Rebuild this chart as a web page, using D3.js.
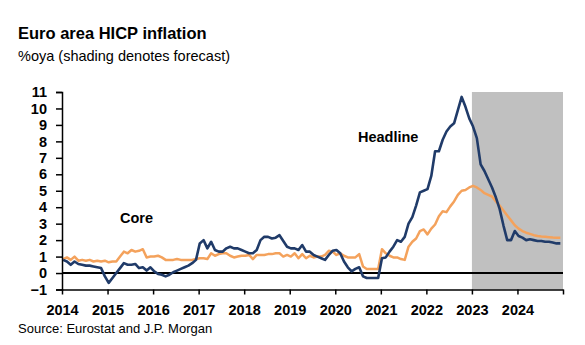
<!DOCTYPE html>
<html>
<head>
<meta charset="utf-8">
<script src="https://cdn.jsdelivr.net/npm/d3@7"></script>
<style>
    body { margin: 0; background: #fff; }
    text { font-family: "Liberation Sans", Arial, sans-serif; }
</style>
</head>
<body>
<div class="hicp-chart-container"></div>
<script>
// monthly, Jan 2014 .. Dec 2024 (2023-24 is forecast)
var years = ["2014", "2015", "2016", "2017", "2018", "2019", "2020", "2021", "2022", "2023", "2024"]
var yTicks = [-1, 0, 1, 2, 3, 4, 5, 6, 7, 8, 9, 10, 11]
var forecastStartIndex = 108 // Jan 2023

var headline = [
    0.8, 0.7, 0.5, 0.7, 0.55, 0.5, 0.45, 0.45, 0.4, 0.35, 0.3, -0.2,
    -0.6, -0.3, 0.0, 0.3, 0.6, 0.5, 0.5, 0.55, 0.3, 0.35, 0.15, 0.35,
    0.1, -0.05, -0.1, -0.2, -0.1, 0.05, 0.15, 0.25, 0.35, 0.45, 0.6, 0.8,
    1.8, 2.0, 1.5, 1.9, 1.4, 1.3, 1.3, 1.5, 1.6, 1.5, 1.5, 1.4,
    1.3, 1.2, 1.2, 1.4, 2.0, 2.2, 2.2, 2.1, 2.15, 2.3, 1.95, 1.6,
    1.5, 1.5, 1.4, 1.7, 1.3, 1.3, 1.1, 1.0, 0.9, 0.8, 1.1, 1.35,
    1.4, 1.2, 0.7, 0.35, 0.1, 0.25, 0.35, -0.2, -0.3, -0.3, -0.3, -0.3,
    0.9, 0.95, 1.3, 1.6, 2.0, 1.9, 2.2, 3.0, 3.4, 4.1, 4.9, 5.0,
    5.1, 5.9, 7.4, 7.4, 8.1, 8.6, 8.9, 9.1, 9.9, 10.7, 10.1, 9.4,
    8.9, 8.2, 6.6, 6.2, 5.7, 5.2, 4.6, 3.9, 2.9, 2.0, 2.0, 2.55,
    2.25, 2.15, 2.0, 2.05, 2.0, 1.95, 1.95, 1.9, 1.9, 1.85, 1.8, 1.8
]

var core = [
    0.85, 0.95, 0.8, 1.0, 0.75, 0.8, 0.75, 0.8, 0.7, 0.75, 0.7, 0.75,
    0.65, 0.7, 0.7, 1.0, 1.3, 1.2, 1.4, 1.3, 1.35, 1.45, 0.95, 1.0,
    1.0, 1.05, 0.95, 0.8, 0.8, 0.8, 0.85, 0.8, 0.8, 0.8, 0.8, 0.85,
    0.9, 0.9, 0.85, 1.2, 1.05, 1.15, 1.2, 1.2, 1.05, 0.95, 1.0, 1.05,
    1.05, 1.1, 0.85, 1.1, 1.1, 1.1, 1.15, 1.15, 1.2, 1.2, 1.0, 1.1,
    1.0, 1.2, 0.9, 1.15, 0.9, 1.05, 0.95, 1.0, 1.0, 1.1, 1.35, 1.3,
    1.1, 1.2, 1.05, 0.95, 0.95, 0.95, 1.15, 0.4, 0.25, 0.25, 0.25, 0.25,
    1.45, 1.2, 1.05, 0.95, 0.95, 0.85, 0.8, 1.6, 1.9, 2.1, 2.55, 2.65,
    2.35, 2.7, 2.95, 3.45, 3.75, 3.7, 4.05, 4.35, 4.75, 5.0, 5.05, 5.2,
    5.3, 5.2, 5.05, 4.85, 4.75, 4.65, 4.35, 4.1, 3.8, 3.5, 3.2, 2.9,
    2.7, 2.55, 2.45, 2.38, 2.3, 2.25, 2.22, 2.2, 2.18, 2.16, 2.15, 2.14
]

let hicp_dimensions = {
    width: 585,
    height: 345,
    plot: { left: 62, right: 563, top: 92, bottom: 289.5 }
}

var svg = d3.select(".hicp-chart-container")
    .append("svg")
    .attr("width", hicp_dimensions.width)
    .attr("height", hicp_dimensions.height)

var p = hicp_dimensions.plot
var nMonths = years.length * 12

var xScale = d3.scaleLinear()
    .domain([0, nMonths])
    .range([p.left, p.right])

var yScale = d3.scaleLinear()
    .domain([-1, 11])
    .range([p.bottom, p.top])

// points sit a little inside their month slot
var monthX = i => xScale(i + 0.3)

// forecast shading
svg.append("rect")
    .attr("x", xScale(forecastStartIndex))
    .attr("y", yScale(11))
    .attr("width", xScale(nMonths) - xScale(forecastStartIndex))
    .attr("height", yScale(-1) - yScale(11))
    .style("fill", "#c0c0c0")

// zero line
svg.append("line")
    .attr("x1", xScale(0))
    .attr("x2", xScale(nMonths))
    .attr("y1", yScale(0))
    .attr("y2", yScale(0))
    .style("stroke", "#000")
    .style("stroke-width", 2)

var line = d3.line()
    .x((d, i) => monthX(i))
    .y(d => yScale(d))

svg.append("path")
    .datum(core)
    .attr("d", line)
    .style("fill", "none")
    .style("stroke", "#f4a25c")
    .style("stroke-width", 2.5)
    .style("stroke-linejoin", "round")

svg.append("path")
    .datum(headline)
    .attr("d", line)
    .style("fill", "none")
    .style("stroke", "#203b69")
    .style("stroke-width", 2.6)
    .style("stroke-linejoin", "round")

// y axis
var yAxis = d3.axisLeft(yScale)
    .tickValues(yTicks)
    .tickSize(6)
    .tickFormat(d3.format("d"))

var yAxisGroup = svg.append("g")
    .attr("transform", `translate(${p.left},0)`)
    .call(yAxis)
yAxisGroup.select(".domain").attr("stroke-width", 1.5)
yAxisGroup.selectAll(".tick line").attr("stroke-width", 1.5)
yAxisGroup.selectAll("text")
    .attr("x", -15)
    .attr("font-size", "14.5px")
    .attr("font-weight", "bold")
    .attr("fill", "#000")

// x axis at the -1 line, ticks on year starts
var xAxis = d3.axisBottom(xScale)
    .tickValues(d3.range(0, nMonths + 1, 12))
    .tickSize(5)
    .tickSizeOuter(0)
    .tickFormat(d => years[d / 12] || "")

var xAxisGroup = svg.append("g")
    .attr("transform", `translate(0,${yScale(-1)})`)
    .call(xAxis)
xAxisGroup.select(".domain").attr("stroke-width", 1.5)
xAxisGroup.selectAll(".tick line").attr("stroke-width", 1.5)
xAxisGroup.selectAll("text")
    .attr("y", 15)
    .attr("font-size", "14.5px")
    .attr("font-weight", "bold")
    .attr("fill", "#000")

// series labels
svg.append("text")
    .attr("x", 120)
    .attr("y", 223)
    .attr("font-size", "14.5px")
    .attr("font-weight", "bold")
    .text("Core")

svg.append("text")
    .attr("x", 358)
    .attr("y", 141.5)
    .attr("font-size", "14.5px")
    .attr("font-weight", "bold")
    .text("Headline")

// titles
svg.append("text")
    .attr("x", 18)
    .attr("y", 39)
    .attr("font-size", "16.5px")
    .attr("font-weight", "bold")
    .text("Euro area HICP inflation")

svg.append("text")
    .attr("x", 18)
    .attr("y", 61)
    .attr("font-size", "14.5px")
    .text("%oya (shading denotes forecast)")

svg.append("text")
    .attr("x", 18)
    .attr("y", 333)
    .attr("font-size", "13px")
    .text("Source: Eurostat and J.P. Morgan")
</script>
</body>
</html>
